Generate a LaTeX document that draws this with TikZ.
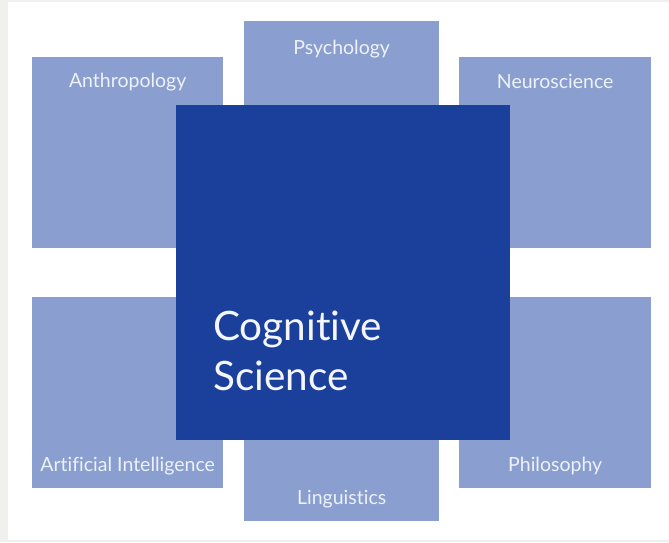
\documentclass[tikz,border=0pt]{standalone}
\usepackage{fontspec}
\setmainfont{Lato}[Ligatures=NoCommon]
\usepackage{tikz}
\usetikzlibrary{positioning}
\definecolor{fieldblue}{HTML}{8A9FCF}
\definecolor{coreblue}{HTML}{1B409B}
\definecolor{pagegray}{HTML}{F0F0EE}
\tikzstyle{field} = [rectangle, inner sep=0pt, fill=fieldblue, minimum width=191pt, minimum height=191pt]
\tikzstyle{fieldtext} = [inner sep=0pt, text=white!85!fieldblue, font=\fontsize{19.5}{22}\selectfont]
\tikzstyle{core} = [rectangle, inner sep=0pt, fill=coreblue, minimum width=334pt, minimum height=335pt]
\tikzstyle{coretext} = [inner sep=0pt, align=left, text=white!95!coreblue, font=\fontsize{40.5}{50}\selectfont]

\begin{document}
\begin{tikzpicture}[x=1pt,y=-1pt]
% page
\fill[pagegray] (0,0) rectangle (669,542);
\fill[white] (8,2) rectangle (669,540);
\useasboundingbox (0,0) rectangle (669,542);

% surrounding fields
\node (anth) [field, anchor=north west] at (32,57) {};
\node (psy) [field, anchor=north west, minimum width=195pt, minimum height=200pt] at (244,21) {};
\node (neuro) [field, anchor=north west, minimum width=192pt] at (459,57) {};
\node (ai) [field, anchor=north west] at (32,297) {};
\node (ling) [field, anchor=north west, minimum width=195pt, minimum height=200pt] at (244,321) {};
\node (phil) [field, anchor=north west, minimum width=192pt] at (459,297) {};

\node (anthT) [fieldtext, below=16pt of anth.north] {Anthropology};
\node (psyT) [fieldtext, below=19pt of psy.north] {Psychology};
\node (neuroT) [fieldtext, below=17pt of neuro.north] {Neuroscience};
\node (aiT) [fieldtext, above=13pt of ai.south] {Artificial Intelligence};
\node (lingT) [fieldtext, above=13pt of ling.south] {Linguistics};
\node (philT) [fieldtext, above=13pt of phil.south] {Philosophy};

% centre
\node (cog) [core, anchor=north west] at (176,105) {};
\node (cogT) [coretext, below right=206pt and 37pt of cog.north west] {Cognitive\\Science};
\end{tikzpicture}
\end{document}
